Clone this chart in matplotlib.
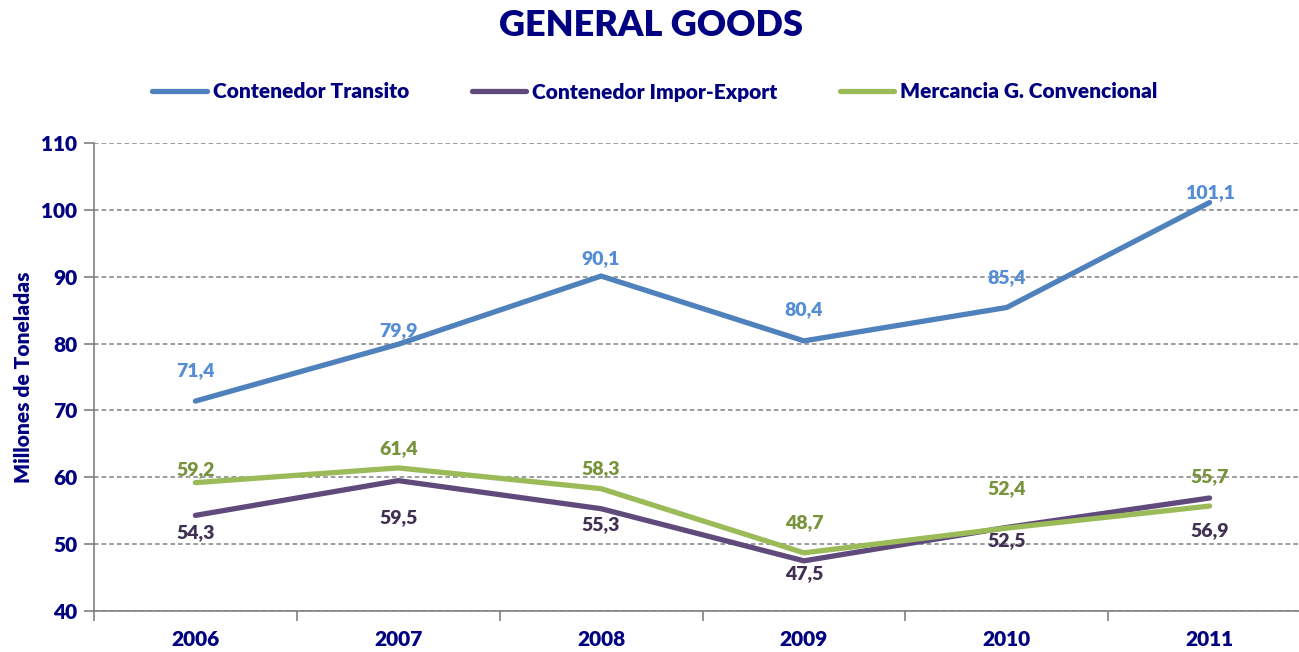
import matplotlib.pyplot as plt
import numpy as np

# data
years = ["2006", "2007", "2008", "2009", "2010", "2011"]
transito = [71.4, 79.9, 90.1, 80.4, 85.4, 101.1]
impor_export = [54.3, 59.5, 55.3, 47.5, 52.5, 56.9]
convencional = [59.2, 61.4, 58.3, 48.7, 52.4, 55.7]

# label offsets in pixels (manual placement as in the original)
off_transito = [30, 14, 17, 31, 30, 10]
off_impor = [-17, -37, -16, -13, -13, -33]
off_conv = [13, 19, 20, 30, 40, 29]

navy = "#000080"
W = "heavy"
plt.rcParams["font.family"] = ["Lato", "DejaVu Sans"]
plt.rcParams["font.weight"] = W

fig = plt.figure(figsize=(12.99, 6.52), dpi=100)
ax = fig.add_axes([94 / 1299, 41 / 652, 1217 / 1299, 468 / 652])

x = np.arange(len(years))
series = [
    ("Contenedor Transito", transito, "#4F81BD", "#558ED5", off_transito),
    ("Contenedor Impor-Export", impor_export, "#604A7B", "#403152", off_impor),
    ("Mercancia G. Convencional", convencional, "#9BBB59", "#77933C", off_conv),
]
for name, vals, col, lcol, offs in series:
    ax.plot(x, vals, color=col, lw=3.8, label=name, solid_capstyle="round",
            solid_joinstyle="round", zorder=3)
    for xi, v, o in zip(x, vals, offs):
        ax.annotate(f"{v:.1f}".replace(".", ","), (xi, v), xytext=(0, o * 0.72),
                    textcoords="offset points", ha="center", va="center",
                    color=lcol, fontsize=14, fontweight=W, zorder=4)

ax.set_xlim(-0.5, 5.5)
ax.set_ylim(40, 110)
ax.set_yticks(range(40, 111, 10))
ax.set_xticks(x)
ax.set_xticklabels(years)
ax.set_xticks(np.arange(-0.5, 6, 1), minor=True)
ax.tick_params(axis="x", which="major", length=0, pad=14, labelsize=15, labelcolor=navy)
ax.tick_params(axis="x", which="minor", length=7, color="#808080", width=1.2)
ax.tick_params(axis="y", length=7, color="#808080", width=1.2, labelsize=15,
               labelcolor=navy, pad=5)
for lbl in ax.get_xticklabels() + ax.get_yticklabels():
    lbl.set_fontweight(W)

ax.grid(axis="y", color="#808080", ls=(0, (3, 2)), lw=1.1)
ax.set_axisbelow(True)
for s in ["top", "right"]:
    ax.spines[s].set_visible(False)
for s in ["left", "bottom"]:
    ax.spines[s].set_color("#808080")
    ax.spines[s].set_linewidth(1.2)

ax.set_ylabel("Millones de Toneladas", color=navy, fontsize=15, fontweight=W, labelpad=6)

fig.suptitle("GENERAL GOODS", x=651 / 1299, y=1 - 25 / 652, va="center",
             color=navy, fontsize=26, fontweight=W)
fig.legend(loc="center", bbox_to_anchor=(655 / 1299, 1 - 92 / 652), ncol=3, frameon=False,
           handlelength=2.6, handletextpad=0.3, columnspacing=3.0,
           labelcolor=navy, prop={"weight": W, "size": 15})

fig.savefig("out.png", dpi=100)
